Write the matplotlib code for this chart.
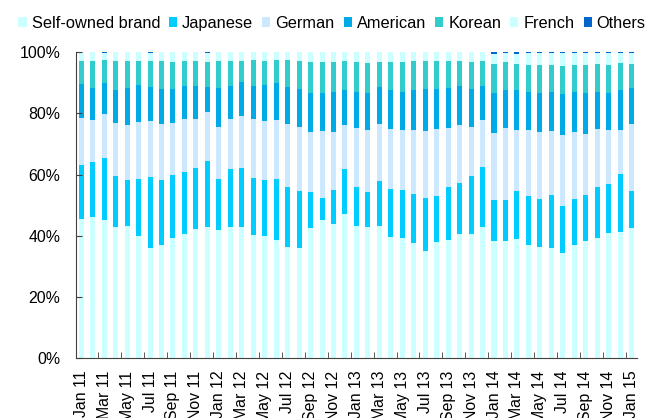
import numpy as np
import matplotlib.pyplot as plt
from matplotlib.patches import Patch

plt.rcParams['font.family'] = ['Liberation Sans', 'DejaVu Sans']

months = ['Jan', 'Feb', 'Mar', 'Apr', 'May', 'Jun', 'Jul', 'Aug', 'Sep', 'Oct', 'Nov', 'Dec']
labels = [m + ' ' + str(y) for y in range(11, 16) for m in months][:49]

# cumulative tops (%)
self_owned = [45.4, 46.2, 45.3, 42.9, 43.3, 40.0, 35.9, 37.0, 39.3, 40.7, 42.2, 42.8,
              41.8, 43.0, 42.8, 40.4, 40.0, 38.7, 36.5, 36.0, 42.5, 45.1, 43.8, 47.2,
              43.3, 42.9, 43.3, 39.6, 39.4, 37.5, 35.2, 38.0, 38.7, 40.6, 40.6, 43.0,
              38.2, 38.2, 39.1, 36.9, 36.3, 36.0, 34.4, 36.9, 38.4, 39.4, 40.8, 41.2, 42.5]
top_japanese = [63.3, 64.2, 65.4, 59.7, 58.1, 58.6, 59.2, 58.1, 59.9, 60.8, 62.3, 64.3,
                58.7, 61.7, 62.3, 59.0, 58.3, 58.5, 56.1, 54.5, 54.4, 52.4, 55.1, 61.7,
                56.1, 54.4, 58.0, 55.3, 55.1, 53.7, 52.5, 53.0, 55.8, 57.4, 59.7, 62.6,
                51.8, 51.6, 54.5, 53.1, 52.2, 53.3, 49.9, 52.0, 53.3, 56.0, 57.0, 60.3, 54.5]
top_german = [78.4, 77.9, 79.7, 77.0, 76.1, 77.1, 77.4, 76.7, 76.9, 78.1, 78.1, 80.6,
              75.5, 78.2, 79.1, 78.1, 77.5, 77.9, 76.6, 75.5, 73.8, 74.4, 73.8, 76.1,
              75.2, 74.5, 76.5, 75.0, 74.7, 74.7, 74.3, 74.8, 75.2, 76.3, 75.5, 77.8,
              73.6, 75.1, 74.7, 74.7, 73.8, 74.1, 72.9, 74.0, 73.2, 75.0, 74.5, 74.6, 76.5]
top_american = [89.5, 88.4, 90.1, 87.8, 88.2, 89.2, 88.8, 88.1, 88.1, 89.0, 89.0, 88.8,
                88.4, 89.1, 90.2, 89.0, 89.2, 90.1, 88.5, 88.1, 86.8, 86.8, 87.1, 87.5,
                87.1, 86.8, 88.5, 87.8, 87.1, 87.5, 87.9, 88.0, 88.4, 89.1, 88.1, 89.1,
                86.8, 87.8, 87.5, 87.1, 86.8, 87.1, 86.4, 86.9, 86.8, 87.1, 86.8, 87.5, 88.4]
top_korean = [97.3, 97.3, 97.5, 97.3, 97.0, 97.3, 97.3, 97.2, 96.9, 97.3, 97.3, 96.8,
              97.0, 97.3, 97.3, 97.5, 97.3, 97.6, 97.5, 97.3, 96.8, 96.8, 96.9, 97.3,
              96.8, 96.5, 96.9, 96.8, 96.8, 97.0, 97.0, 97.2, 97.3, 97.3, 96.8, 97.3,
              96.3, 96.7, 96.1, 95.9, 95.8, 95.9, 95.6, 95.9, 95.9, 96.1, 95.9, 96.6, 96.3]
others = [0, 0, 0.3, 0, 0, 0, 0.3, 0, 0, 0, 0, 0.3,
          0, 0, 0, 0, 0, 0, 0, 0, 0, 0, 0, 0,
          0, 0, 0, 0, 0, 0, 0, 0, 0, 0, 0, 0,
          0.5, 0.3, 0.6, 0.3, 0.4, 0.4, 0.3, 0.4, 0.4, 0.4, 0.4, 0.3, 0.2]

so = np.array(self_owned)
jp = np.array(top_japanese) - so
de = np.array(top_german) - np.array(top_japanese)
us = np.array(top_american) - np.array(top_german)
kr = np.array(top_korean) - np.array(top_american)
ot = np.array(others)
fr = 100 - np.array(top_korean) - ot

names = ['Self-owned brand', 'Japanese', 'German', 'American', 'Korean', 'French', 'Others']
colors = ['#CCFFFF', '#00CCFF', '#CCE8FF', '#00AAE6', '#33CCCC', '#CCFFFF', '#0066CC']
series = [so, jp, de, us, kr, fr, ot]

fig = plt.figure(figsize=(6.51, 4.18), dpi=100)
ax = fig.add_axes([0.116, 0.143, 0.863, 0.732])

x = np.arange(len(labels))
bottom = np.zeros(len(labels))
for s, c in zip(series, colors):
    ax.bar(x, s, bottom=bottom, width=0.44, color=c, linewidth=0)
    bottom += s

ax.set_xlim(-0.5, len(labels) - 0.5)
ax.set_ylim(0, 100)
ax.set_yticks(range(0, 101, 20))
ax.set_yticklabels([str(v) + '%' for v in range(0, 101, 20)], fontsize=11.4)
ax.set_xticks(x[::2])
ax.set_xticklabels(labels[::2], rotation=90, fontsize=11.4, va='top')
ax.set_xticks(np.arange(1.5, len(labels) - 1, 2), minor=True)
ax.tick_params(axis='x', which='major', length=0, pad=9)
ax.tick_params(axis='x', which='minor', direction='in', length=4, color='#404040')
ax.tick_params(axis='y', direction='in', length=4, color='#404040', pad=11)
for side in ['top', 'right']:
    ax.spines[side].set_visible(False)
for side in ['left', 'bottom']:
    ax.spines[side].set_color('#404040')

handles = [Patch(facecolor=c, edgecolor='none', label=n) for n, c in zip(names, colors)]
fig.legend(handles=handles, loc='center', bbox_to_anchor=(0.51, 0.944), ncol=7,
           frameon=False, fontsize=11.8, handlelength=0.5, handleheight=0.5,
           handletextpad=0.3, columnspacing=0.55, borderpad=0)

fig.savefig('out.png', dpi=100)
